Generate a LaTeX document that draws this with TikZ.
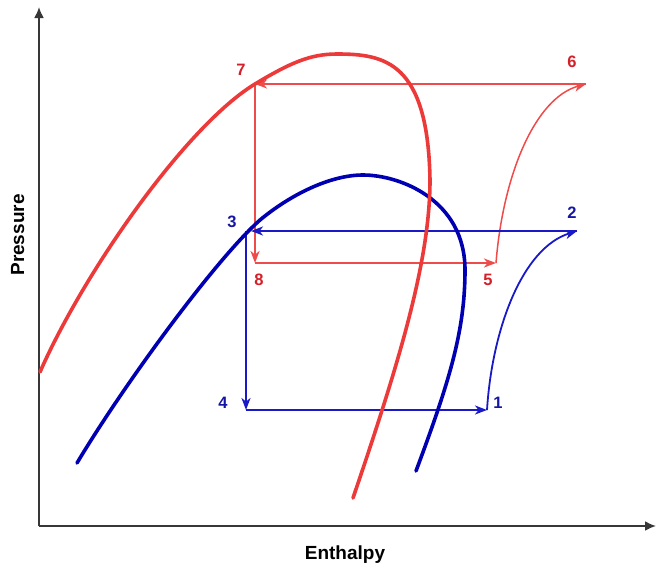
\documentclass[tikz,border=0pt]{standalone}
\usepackage{fontspec}
\setmainfont{Liberation Sans}
\usetikzlibrary{arrows.meta}
\definecolor{domered}{RGB}{236,58,58}
\definecolor{domeblue}{RGB}{0,0,178}
\definecolor{cyclered}{RGB}{238,75,75}
\definecolor{cycleblue}{RGB}{25,25,200}
\definecolor{labred}{RGB}{212,32,40}
\definecolor{labblue}{RGB}{22,22,165}
\definecolor{axisgray}{RGB}{55,55,55}
\tikzset{
  axisline/.style={draw=axisgray, line width=2pt, -{Latex[length=11pt,width=10pt]}},
  domeR/.style={draw=domered, line width=3.6pt, line cap=round},
  domeB/.style={draw=domeblue, line width=3.6pt, line cap=round},
  cycR/.style={draw=cyclered, line width=1.5pt, -{Stealth[length=12pt,width=9pt,inset=3.5pt]}},
  cycB/.style={draw=cycleblue, line width=1.8pt, -{Stealth[length=12pt,width=9pt,inset=3.5pt]}},
  numR/.style={text=labred, font=\fontsize{16.5}{19}\selectfont\bfseries, inner sep=0pt},
  numB/.style={text=labblue, font=\fontsize{16.5}{19}\selectfont\bfseries, inner sep=0pt},
  axlab/.style={text=black, font=\fontsize{19}{22}\selectfont\bfseries, inner sep=0pt}
}
\begin{document}
\begin{tikzpicture}[x=1pt,y=-1pt]
\path[use as bounding box, fill=white] (0,0) rectangle (656,568);

% axes
\coordinate (origin) at (39,526);
\coordinate (ytop) at (39,7);
\coordinate (xend) at (656,526);
\draw[axisline] (origin) -- (ytop);
\draw[axisline] (origin) -- (xend);
\node[axlab, anchor=base, rotate=90] (plab) at (24,235) {Pressure};
\node[axlab, anchor=base] (hlab) at (345,559) {Enthalpy};

% cycle points
\coordinate (p7) at (255,84);
\coordinate (p6) at (586,84);
\coordinate (p8) at (255,263);
\coordinate (p5) at (496,263);
\coordinate (p3h) at (251,231);
\coordinate (p3) at (246,231);
\coordinate (p2) at (577,231);
\coordinate (p4) at (246,410);
\coordinate (p1) at (487,410);

% red cycle
\draw[cycR] (p6) -- (p7);
\draw[cycR] (p7) -- (p8);
\draw[cycR] (p8) -- (p5);
\draw[cycR] (p5) .. controls (503,175) and (535,98) .. (p6);

% blue cycle
\draw[cycB] (p2) -- (p3h);
\draw[cycB] (p3) -- (p4);
\draw[cycB] (p4) -- (p1);
\draw[cycB] (p1) .. controls (492,330) and (522,248) .. (p2);

% saturation domes
\draw[domeB] (77,463) .. controls (123,386) and (215,260) .. (260,220)
  .. controls (290,195) and (330,175) .. (363,175)
  .. controls (400,175) and (465,200) .. (465,270)
  .. controls (465,330) and (450,380) .. (416,471);
\draw[domeR] (40,372) .. controls (84,272) and (186,126) .. (255,84)
  .. controls (290,63) and (310,54) .. (337,54)
  .. controls (385,54) and (428,62) .. (430,180)
  .. controls (430,260) and (400,360) .. (353,498);

% labels
\node[numR] (l7) at (241,70) {7};
\node[numR] (l6) at (572,62) {6};
\node[numR] (l8) at (259,280) {8};
\node[numR] (l5) at (488,280) {5};
\node[numB] (l3) at (232,222) {3};
\node[numB] (l2) at (572,213) {2};
\node[numB] (l4) at (223,403) {4};
\node[numB] (l1) at (498,403) {1};
\end{tikzpicture}
\end{document}
